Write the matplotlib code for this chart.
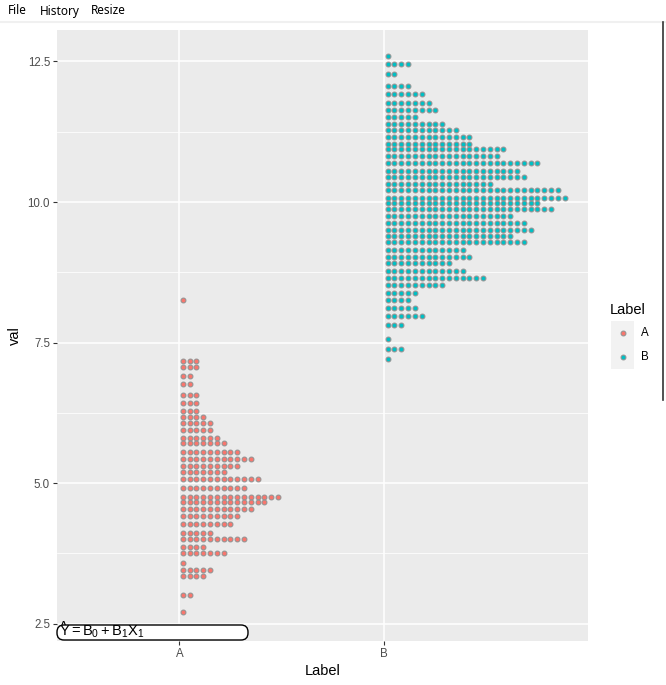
import numpy as np
import matplotlib
matplotlib.use("Agg")
import matplotlib.pyplot as plt
from matplotlib.patches import FancyBboxPatch, Rectangle
from matplotlib.lines import Line2D
from matplotlib.transforms import IdentityTransform

plt.rcParams['font.family'] = ['Liberation Sans', 'DejaVu Sans']
plt.rcParams['mathtext.fontset'] = 'custom'
plt.rcParams['mathtext.rm'] = 'Liberation Sans'
plt.rcParams['mathtext.it'] = 'Liberation Sans'

# stacked dot rows: bin centre (val) and number of dots in the stack
a_vals = [8.25, 7.18, 7.06, 6.90, 6.77, 6.56, 6.42, 6.29, 6.17, 6.06, 5.94, 5.81,
          5.71, 5.56, 5.42, 5.30, 5.19, 5.07, 4.92, 4.76, 4.66, 4.53, 4.41, 4.27,
          4.11, 4.00, 3.87, 3.75, 3.57, 3.45, 3.34, 3.00, 2.70]
a_counts = [1, 3, 3, 2, 2, 3, 3, 3, 4, 5, 5, 6,
            7, 9, 11, 9, 7, 12, 10, 15, 13, 11, 9, 8,
            5, 10, 4, 7, 1, 5, 4, 2, 1]

b_vals = [12.59, 12.45, 12.27, 12.06, 11.93, 11.76, 11.63, 11.51, 11.38, 11.28,
          11.15, 11.04, 10.94, 10.81, 10.69, 10.55, 10.44, 10.32, 10.21, 10.08,
          9.98, 9.87, 9.75, 9.62, 9.51, 9.39, 9.28, 9.14, 9.02, 8.91,
          8.78, 8.64, 8.52, 8.38, 8.25, 8.11, 7.98, 7.81, 7.56, 7.38, 7.20]
b_counts = [1, 4, 2, 4, 6, 7, 8, 5, 9, 11,
            13, 13, 18, 17, 23, 20, 21, 16, 26, 27,
            23, 25, 19, 21, 22, 19, 21, 12, 13, 10,
            12, 15, 9, 5, 4, 5, 6, 3, 1, 3, 1]

labels = ['A', 'B']
colors = ['#F8766D', '#00BFC4']
groups = [(a_vals, a_counts), (b_vals, b_counts)]

W, H = 666, 685
fig = plt.figure(figsize=(W / 100, H / 100), dpi=100)
fig.patch.set_facecolor('white')

def fx(px):
    return px / W

def fy(py):
    return 1 - py / H

# panel
left, right, top, bottom = 57, 588, 30, 641
ax = fig.add_axes([fx(left), fy(bottom), fx(right - left), (bottom - top) / H])
ax.set_facecolor('#EBEBEB')
ax.set_xlim(0.403, 2.994)
ax.set_ylim(2.19, 13.06)

step = 0.0332  # horizontal distance between stacked dots
for i, (vals, counts) in enumerate(groups):
    for v, n in zip(vals, counts):
        xs = (i + 1) + (np.arange(n) + 0.5) * step
        ax.plot(xs, np.full(n, v), 'o', ms=3.5, mfc=colors[i],
                mec='#939393', mew=0.75, zorder=3, clip_on=False)

ax.set_yticks([2.5, 5.0, 7.5, 10.0, 12.5])
ax.set_yticklabels(['2.5', '5.0', '7.5', '10.0', '12.5'])
ax.set_yticks([3.75, 6.25, 8.75, 11.25], minor=True)
ax.set_xticks([1, 2])
ax.set_xticklabels(labels)
ax.grid(which='major', color='white', lw=1.1)
ax.grid(which='minor', axis='y', color='white', lw=0.55)
ax.set_axisbelow(True)
for s in ax.spines.values():
    s.set_visible(False)
ax.tick_params(which='major', length=3, width=0.8, color='#333333',
               labelcolor='#4D4D4D', labelsize=8.3, pad=2)
ax.tick_params(which='minor', length=0)
ax.set_xlabel('Label', fontsize=10.5, labelpad=3)
ax.set_ylabel('val', fontsize=10.5, labelpad=4)

# legend
fig.text(fx(610), fy(310), 'Label', fontsize=10.5, va='center', ha='left')
for i, lab in enumerate(labels):
    cy = 333 + 24 * i
    fig.add_artist(Rectangle((fx(611), fy(cy + 12)), fx(23), 24 / H,
                             facecolor='#F2F2F2', edgecolor='none'))
    fig.add_artist(Line2D([fx(622.5)], [fy(cy)], marker='o', ms=3.5,
                          mfc=colors[i], mec='#939393', mew=0.75))
    fig.text(fx(641), fy(cy), lab, fontsize=8.3, va='center', ha='left')

# formula label at the bottom-left corner, covering an "A" beneath it
fig.text(fx(59), fy(627), 'A', fontsize=10, va='center', ha='left', zorder=4)
box = FancyBboxPatch((57, H - 640), 191, 15,
                     boxstyle='round,pad=0,rounding_size=7',
                     facecolor='white', edgecolor='black', lw=1.0,
                     transform=IdentityTransform(), zorder=5)
fig.add_artist(box)
fig.text(fx(59), fy(632), r'$Y = B_0 + B_1X_1$', fontsize=10.5,
         va='center', ha='left', zorder=6)

# window chrome
for x, t in [(8, 'File'), (40, 'History'), (91, 'Resize')]:
    fig.text(fx(x), fy(11), t, fontsize=8.5, va='center', ha='left',
             family=['Noto Sans', 'DejaVu Sans'])
fig.add_artist(Line2D([0, 1], [fy(21.5), fy(21.5)], color='#F0F0F0', lw=1.5))
fig.add_artist(Line2D([fx(663), fx(663)], [fy(22), fy(400)], color='#333333', lw=1.2))

fig.savefig('out.png', dpi=100)
